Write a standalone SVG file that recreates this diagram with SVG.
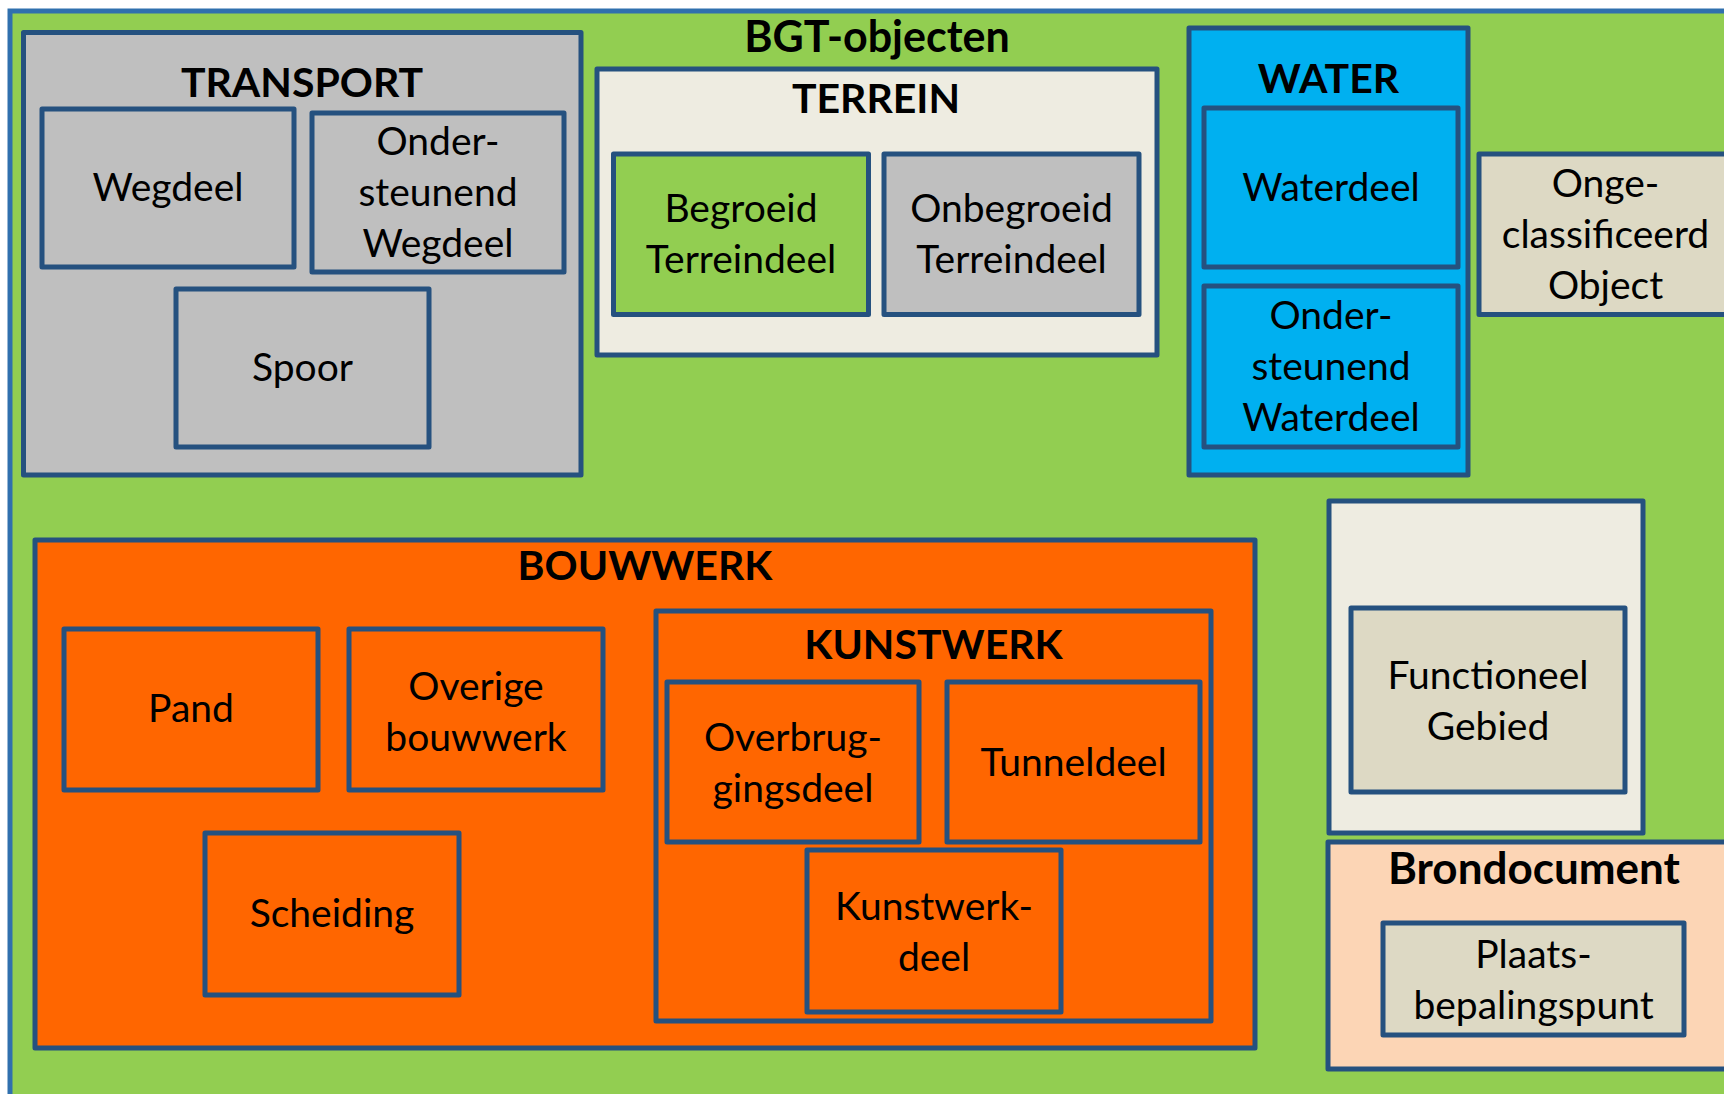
<svg xmlns="http://www.w3.org/2000/svg" width="1724" height="1094" viewBox="0 0 1724 1094">
  <style>
    .box { stroke: #25517F; stroke-width: 5; stroke-linejoin: round; }
    .frame { fill: #92CE51; stroke: #3070AE; stroke-width: 5; }
    .gray { fill: #BFBFBF; }
    .green { fill: #92CE51; }
    .cream { fill: #EEECE1; }
    .tan { fill: #DDD9C4; }
    .blue { fill: #00B0F0; }
    .orange { fill: #FF6600; }
    .peach { fill: #FCD5B5; }
    text { font-family: Lato, "Open Sans", sans-serif; fill: #000; text-anchor: middle; }
    .title { font-size: 41px; font-weight: bold; }
    .title-mixed { font-size: 44px; font-weight: bold; }
    .label { font-size: 39px; }
  </style>

  <rect x="0" y="0" width="1724" height="1094" fill="#FFFFFF"/>

  <!-- outer frame holding every object class -->
  <g id="bgt-objecten">
    <rect class="frame" x="10" y="11" width="1740" height="1110"/>
    <text class="title-mixed" x="877" y="52" style="font-size:43px">BGT-objecten</text>
  </g>

  <!-- transport -->
  <g id="transport">
    <rect class="box gray" x="23.5" y="32.5" width="557.5" height="442.5"/>
    <text class="title" x="302" y="97">TRANSPORT</text>
  </g>
  <g id="wegdeel">
    <rect class="box gray" x="42" y="109" width="252" height="158"/>
    <text class="label" x="168" y="201">Wegdeel</text>
  </g>
  <g id="ondersteunend-wegdeel">
    <rect class="box gray" x="312" y="113" width="252" height="159"/>
    <text class="label" x="438" y="154.5">Onder-<tspan x="438" dy="51">steunend</tspan><tspan x="438" dy="51">Wegdeel</tspan></text>
  </g>
  <g id="spoor">
    <rect class="box gray" x="176" y="289" width="253" height="158"/>
    <text class="label" x="302.5" y="381">Spoor</text>
  </g>

  <!-- terrein -->
  <g id="terrein">
    <rect class="box cream" x="597" y="69" width="560" height="286"/>
    <text class="title" x="876" y="113">TERREIN</text>
  </g>
  <g id="begroeid-terreindeel">
    <rect class="box green" x="613.5" y="154" width="255" height="160.5"/>
    <text class="label" x="741" y="222">Begroeid<tspan x="741" dy="51">Terreindeel</tspan></text>
  </g>
  <g id="onbegroeid-terreindeel">
    <rect class="box gray" x="884" y="154" width="255" height="160.5"/>
    <text class="label" x="1011.5" y="222">Onbegroeid<tspan x="1011.5" dy="51">Terreindeel</tspan></text>
  </g>

  <!-- water -->
  <g id="water">
    <rect class="box blue" x="1189" y="28" width="279" height="447"/>
    <text class="title" x="1328.5" y="93">WATER</text>
  </g>
  <g id="waterdeel">
    <rect class="box blue" x="1204" y="108" width="254" height="159"/>
    <text class="label" x="1331" y="201">Waterdeel</text>
  </g>
  <g id="ondersteunend-waterdeel">
    <rect class="box blue" x="1204" y="286" width="254" height="161"/>
    <text class="label" x="1331" y="329">Onder-<tspan x="1331" dy="51">steunend</tspan><tspan x="1331" dy="51">Waterdeel</tspan></text>
  </g>

  <!-- ongeclassificeerd object -->
  <g id="ongeclassificeerd-object">
    <rect class="box tan" x="1479" y="154" width="254" height="160.5"/>
    <text class="label" x="1605.5" y="197">Onge-<tspan x="1605.5" dy="51">classificeerd</tspan><tspan x="1605.5" dy="51">Object</tspan></text>
  </g>

  <!-- functioneel gebied -->
  <g id="functioneel-gebied-kader">
    <rect class="box cream" x="1329" y="501" width="314" height="332"/>
  </g>
  <g id="functioneel-gebied">
    <rect class="box tan" x="1351" y="608" width="274" height="184"/>
    <text class="label" x="1488" y="689">Functioneel<tspan x="1488" dy="51">Gebied</tspan></text>
  </g>

  <!-- brondocument -->
  <g id="brondocument">
    <rect class="box peach" x="1328" y="842" width="420" height="227"/>
    <text class="title-mixed" x="1534" y="884">Brondocument</text>
  </g>
  <g id="plaatsbepalingspunt">
    <rect class="box tan" x="1383" y="923" width="301" height="112"/>
    <text class="label" x="1533.5" y="968">Plaats-<tspan x="1533.5" dy="51">bepalingspunt</tspan></text>
  </g>

  <!-- bouwwerk -->
  <g id="bouwwerk">
    <rect class="box orange" x="35" y="540" width="1220" height="508"/>
    <text class="title" x="645" y="580">BOUWWERK</text>
  </g>
  <g id="pand">
    <rect class="box orange" x="64" y="629" width="254" height="161"/>
    <text class="label" x="191" y="722">Pand</text>
  </g>
  <g id="overige-bouwwerk">
    <rect class="box orange" x="349" y="629" width="254" height="161"/>
    <text class="label" x="476" y="700">Overige<tspan x="476" dy="51">bouwwerk</tspan></text>
  </g>
  <g id="scheiding">
    <rect class="box orange" x="205" y="833" width="254" height="162"/>
    <text class="label" x="332" y="927">Scheiding</text>
  </g>

  <!-- kunstwerk -->
  <g id="kunstwerk">
    <rect class="box orange" x="656" y="611" width="555" height="410"/>
    <text class="title" x="933.5" y="659">KUNSTWERK</text>
  </g>
  <g id="overbruggingsdeel">
    <rect class="box orange" x="667" y="682" width="252" height="160"/>
    <text class="label" x="793" y="750.5">Overbrug-<tspan x="793" dy="51">gingsdeel</tspan></text>
  </g>
  <g id="tunneldeel">
    <rect class="box orange" x="947" y="682" width="253" height="160"/>
    <text class="label" x="1073.5" y="776">Tunneldeel</text>
  </g>
  <g id="kunstwerkdeel">
    <rect class="box orange" x="807" y="850" width="254" height="162"/>
    <text class="label" x="934" y="920">Kunstwerk-<tspan x="934" dy="51">deel</tspan></text>
  </g>

  <g id="connectors"/>
</svg>
